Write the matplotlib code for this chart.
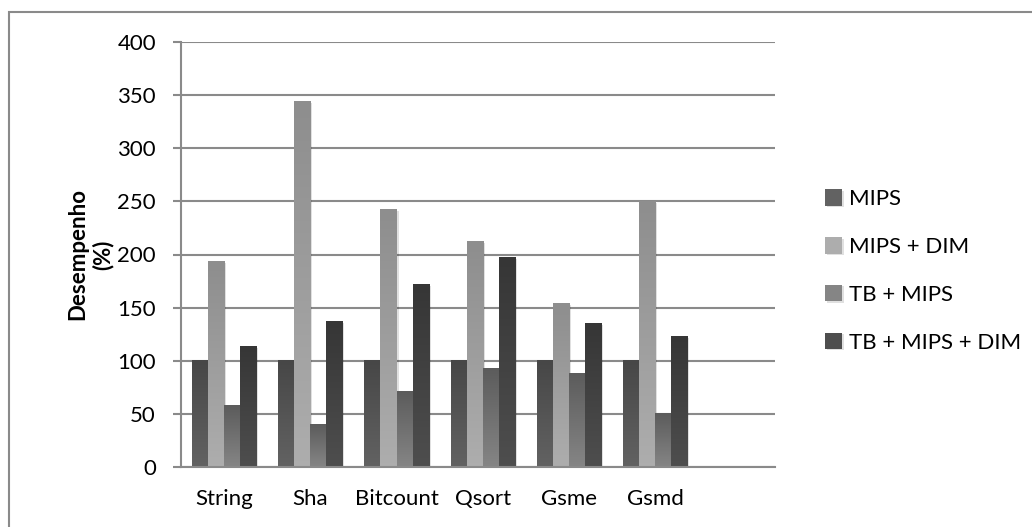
import numpy as np
import matplotlib
matplotlib.use('Agg')
import matplotlib.pyplot as plt
import matplotlib.patheffects as pe
from matplotlib.colors import LinearSegmentedColormap
from matplotlib.patches import Rectangle

benchmarks = ['String', 'Sha', 'Bitcount', 'Qsort', 'Gsme', 'Gsmd']
series = ['MIPS', 'MIPS + DIM', 'TB + MIPS', 'TB + MIPS + DIM']
mips = [100, 100, 100, 100, 100, 100]
mips_dim = [193, 344, 242, 212, 154, 250]
tb_mips = [58, 40, 71, 93, 88, 50]
tb_mips_dim = [113, 137, 172, 197, 135, 123]

# (top colour, bottom colour) of each series gradient
shades = [('#626262', '#474747'),
          ('#adadad', '#8e8e8e'),
          ('#858585', '#5c5c5c'),
          ('#4e4e4e', '#363636')]

plt.rcParams['font.family'] = ['Lato', 'DejaVu Sans']

fig = plt.figure(figsize=(10.32, 5.27), dpi=100)
ax = fig.add_axes([181 / 1032, 1 - 467 / 527, 594 / 1032, 425 / 527])

x = np.arange(len(benchmarks))
width = 0.186
values = [mips, mips_dim, tb_mips, tb_mips_dim]
grad = np.linspace(0, 1, 64).reshape(-1, 1)

for i, (name, vals) in enumerate(zip(series, values)):
    top, bottom = shades[i]
    cmap = LinearSegmentedColormap.from_list(name, [top, bottom])
    bars = ax.bar(x + (i - 1.5) * width, vals, width, color=top, label=name,
                  zorder=2,
                  path_effects=[pe.SimplePatchShadow(offset=(1.5, -1), shadow_rgbFace='#000000', alpha=0.12),
                                pe.Normal()])
    for b in bars:
        x0, y0 = b.get_x(), b.get_y()
        ax.imshow(grad, cmap=cmap, aspect='auto', zorder=2.5,
                  extent=[x0, x0 + b.get_width(), y0 + b.get_height(), y0])

ax.set_xlim(-0.5, -0.5 + 594 / 86.2)
ax.set_ylim(0, 400)
ax.set_yticks(np.arange(0, 401, 50))
ax.set_xticks(x)
ax.set_xticklabels(benchmarks)
ax.yaxis.grid(True, color='#8a8a8a', linewidth=1.5, zorder=0)
ax.set_axisbelow(True)

for side in ['top', 'right']:
    ax.spines[side].set_visible(False)
ax.spines['left'].set_color('#8a8a8a')
ax.spines['left'].set_linewidth(1.5)
ax.spines['bottom'].set_color('#8a8a8a')
ax.spines['bottom'].set_linewidth(1.5)
ax.tick_params(axis='y', length=6, width=1.5, color='#8a8a8a', pad=12, labelsize=16)
ax.tick_params(axis='x', length=0, pad=16, labelsize=16)

ax.set_ylabel('Desempenho\n(%)', fontsize=16, fontweight='bold', labelpad=3,
              linespacing=1.2)

handles, labels = ax.get_legend_handles_labels()
fig.legend(handles, labels, loc='center left', bbox_to_anchor=(805 / 1032, 1 - 271 / 527),
           frameon=False, fontsize=16, handlelength=0.75, handleheight=0.75,
           handletextpad=0.35, labelspacing=1.25)

# chart border
fig.add_artist(Rectangle((9 / 1032, -0.2), 1.2, 1.2 - 12 / 527, transform=fig.transFigure,
                         fill=False, edgecolor='#8a8a8a', linewidth=1.5))

fig.savefig('out.png', dpi=100)
